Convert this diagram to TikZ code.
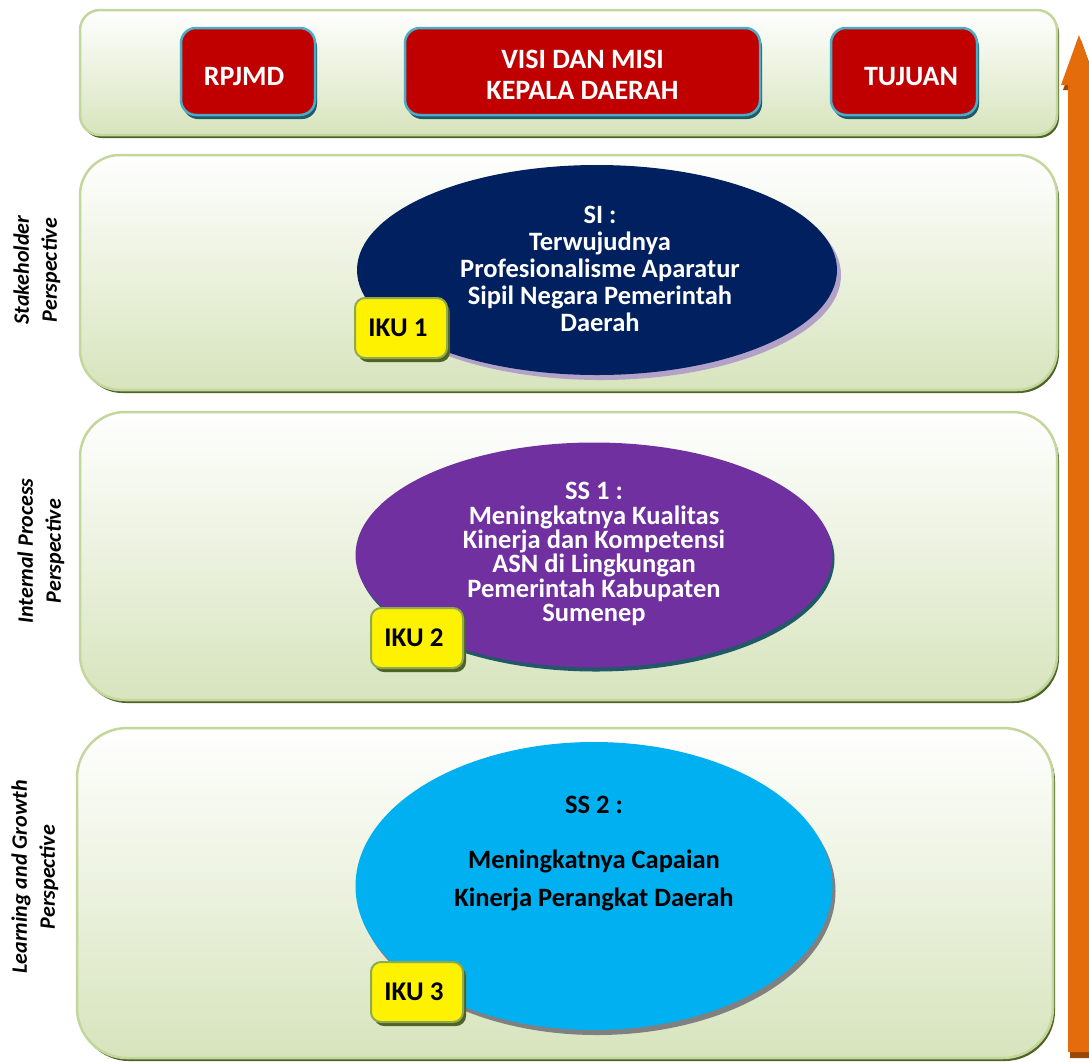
\documentclass[tikz,border=0pt]{standalone}
\usepackage{fontspec}
\setmainfont{Carlito}
\usetikzlibrary{shapes.geometric,shadows}
\definecolor{panelline}{HTML}{C3D69B}
\definecolor{panelbot}{HTML}{D7E4BD}
\definecolor{panelshadow}{HTML}{4F6228}
\definecolor{boxred}{HTML}{C00000}
\definecolor{boxline}{HTML}{4BACC6}
\definecolor{boxshadow}{HTML}{215968}
\definecolor{siblue}{HTML}{002060}
\definecolor{sishadow}{HTML}{B3A2C7}
\definecolor{sspurple}{HTML}{7030A0}
\definecolor{sscyan}{HTML}{00B0F0}
\definecolor{ikuline}{HTML}{8FAA4C}
\definecolor{arroworange}{HTML}{E46C0A}
\definecolor{arrowshadow}{HTML}{984807}
\tikzset{
  panel/.style={rectangle, draw=panelline, line width=2.5pt, top color=white, bottom color=panelbot,
    minimum width=977pt, inner sep=0pt,
    drop shadow={shadow xshift=2pt, shadow yshift=-3pt, fill=panelshadow, opacity=1}},
  redbox/.style={rectangle, rounded corners=15pt, draw=boxline, line width=2.5pt, fill=boxred,
    minimum height=87pt, inner sep=0pt,
    drop shadow={shadow xshift=2pt, shadow yshift=-4pt, fill=boxshadow, opacity=1}},
  redtext/.style={text=white, font=\fontsize{28}{31}\selectfont\bfseries, align=center},
  goal/.style={ellipse, inner sep=0pt},
  goaltext/.style={align=center, font=\fontsize{26.5}{27}\selectfont\bfseries},
  ikubox/.style={rectangle, rounded corners=10pt, draw=ikuline, line width=2pt, fill=yellow,
    minimum width=92pt, minimum height=60pt, inner sep=0pt, font=\fontsize{27}{30}\selectfont\bfseries,
    drop shadow={shadow xshift=3pt, shadow yshift=-4pt, fill=panelshadow, opacity=1}},
  persp/.style={rotate=90, align=center, font=\fontsize{22}{28}\selectfont\bfseries\itshape}
}
\begin{document}
\begin{tikzpicture}[x=1pt,y=-1pt]
\useasboundingbox (0,0) rectangle (1089,1061);
\clip (0,0) rectangle (1089,1061);
% panels
\node[panel, rounded corners=20pt, minimum height=125pt] (ptop) at (568.5,72.5) {};
\node[panel, rounded corners=40pt, minimum height=235pt] (pstake) at (568.5,272.5) {};
\node[panel, rounded corners=45pt, minimum height=288pt] (pint) at (568.5,556) {};
\node[panel, rounded corners=50pt, minimum height=330pt, minimum width=976pt] (plearn) at (565,893) {};
% top boxes
\node[redbox, minimum width=134pt] (rpjmd) at (248,71.5) {};
\node[redtext] (rpjmdtext) at (244,77) {RPJMD};
\node[redbox, minimum width=355pt] (visi) at (582.5,71.5) {};
\node[redtext] (visitext) at (582.5,75) {VISI DAN MISI\\KEPALA DAERAH};
\node[redbox, minimum width=146pt] (tujuan) at (904,71.5) {};
\node[redtext] (tujuantext) at (911,77) {TUJUAN};
% perspective labels
\node[persp] (lstake) at (37,270) {Stakeholder\\Perspective};
\node[persp] (lint) at (41,551) {Internal Process\\Perspective};
\node[persp] (llearn) at (35,877) {Learning and Growth\\Perspective};
% goals
\node[goal, fill=siblue, minimum width=480pt, minimum height=210pt,
  drop shadow={shadow xshift=4pt, shadow yshift=-5pt, fill=sishadow, opacity=1}] (si) at (597,270) {};
\node[goaltext, text=white] (sitext) at (600,269) {SI :\\Terwujudnya\\Profesionalisme Aparatur\\Sipil Negara Pemerintah\\Daerah};
\node[goal, fill=sspurple, minimum width=477pt, minimum height=225pt,
  drop shadow={shadow xshift=2pt, shadow yshift=-4pt, fill=boxshadow, opacity=1}] (ss1) at (594,555) {};
\node[goaltext, text=white, font=\fontsize{26.5}{24.4}\selectfont\bfseries] (ss1text) at (594,554) {SS 1 :\\Meningkatnya Kualitas\\Kinerja dan Kompetensi\\ASN di Lingkungan\\Pemerintah Kabupaten\\Sumenep};
\node[goal, fill=sscyan, minimum width=477pt, minimum height=288pt,
  drop shadow={shadow xshift=3pt, shadow yshift=-5pt, fill=gray, opacity=1}] (ss2) at (594,886) {};
\node[goaltext] (ss2head) at (594,805) {SS 2 :};
\node[goaltext, font=\fontsize{26.5}{38}\selectfont\bfseries] (ss2text) at (594,880) {Meningkatnya Capaian\\Kinerja Perangkat Daerah};
% IKU boxes
\node[ikubox] (iku1) at (401,328) {\hspace*{-6pt}IKU 1};
\node[ikubox] (iku2) at (417,638) {\hspace*{-6pt}IKU 2};
\node[ikubox] (iku3) at (417,992) {\hspace*{-6pt}IKU 3};
% arrow
\fill[arrowshadow] (1081,40) -- (1099,90) -- (1092,90) -- (1092,1058) -- (1070,1058) -- (1070,90) -- (1063,90) -- cycle;
\fill[arroworange] (1079,35) -- (1097,85) -- (1090,85) -- (1090,1052) -- (1068,1052) -- (1068,85) -- (1061,85) -- cycle;
\end{tikzpicture}
\end{document}
